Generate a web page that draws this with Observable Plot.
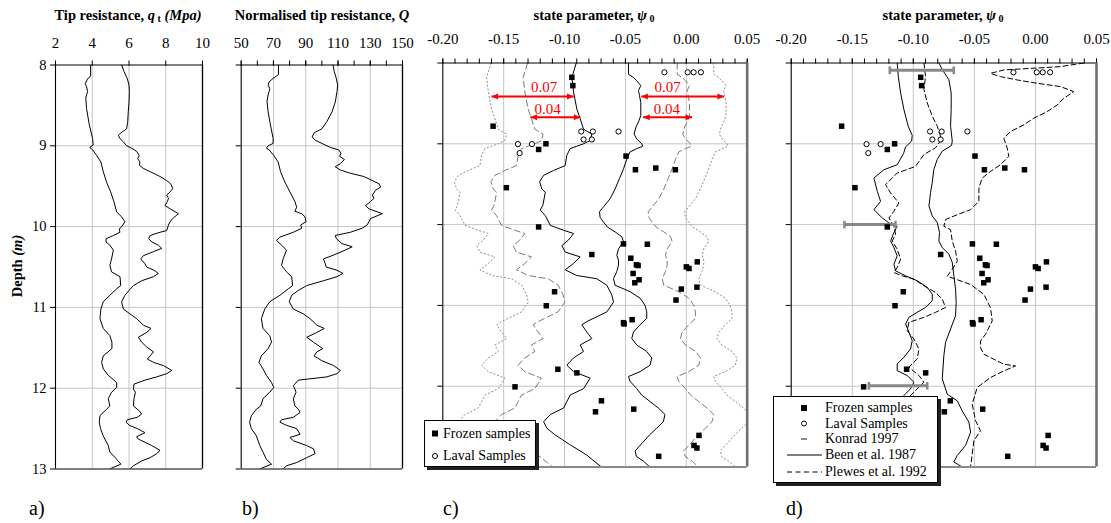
<!DOCTYPE html>
<html><head><meta charset="utf-8">
<script src="https://cdn.jsdelivr.net/npm/d3@7"></script>
<script src="https://cdn.jsdelivr.net/npm/@observablehq/plot@0.6"></script>
<style>
body{margin:0;background:#fff;}
#root{position:relative;width:1111px;height:523px;font-family:"Liberation Serif","Times New Roman",Times,serif;color:#000;overflow:hidden;}
.title{position:absolute;top:8px;font-weight:bold;font-size:14.5px;line-height:1;white-space:nowrap;transform:translateX(-50%);}
.title sub{font-size:10px;vertical-align:-2px;line-height:0;}
.plab{position:absolute;font-size:20px;line-height:1;top:498px;}
.legend{position:absolute;background:#fff;border:1px solid #000;box-shadow:3px 3px 0 #222;font-size:14px;line-height:1;}
.legend .t{position:absolute;white-space:nowrap;transform:translateY(-50%);}
.legend svg{position:absolute;left:0;top:0;overflow:visible;}
</style></head><body><div id="root"></div><script>
// ---------------- data ----------------
const depthTicks = [8, 9, 10, 11, 12, 13];
const depthGrid = [9, 10, 11, 12];
const qtTicks = [2, 4, 6, 8, 10];
const qtGrid = [4, 6, 8];
const qTicks = [50, 70, 90, 110, 130, 150];
const qMinor = [50, 60, 70, 80, 90, 100, 110, 120, 130, 140, 150];
const qGrid = [70, 90, 110, 130];
const psiTicks = [-0.20, -0.15, -0.10, -0.05, 0.00, 0.05];
const psiMinor = [-0.20,-0.19,-0.18,-0.17,-0.16,-0.15,-0.14,-0.13,-0.12,-0.11,-0.10,-0.09,-0.08,-0.07,-0.06,-0.05,-0.04,-0.03,-0.02,-0.01,0.00,0.01,0.02,0.03,0.04,0.05];
const psiGrid = [-0.15, -0.10, -0.05, 0.00];

// a) tip resistance qt (MPa): [depth, value]
const qtLeft = [[8.0,3.91],[8.14,3.91],[8.17,3.75],[8.23,3.62],[8.27,3.69],[8.33,3.75],[8.37,3.69],[8.41,3.65],[8.54,3.69],[8.74,3.84],[8.91,4.02],[8.99,4.05],[9.02,3.86],[9.05,4.02],[9.12,4.24],[9.2,4.47],[9.32,4.6],[9.45,4.78],[9.57,5.0],[9.69,5.18],[9.82,5.33],[9.88,5.6],[9.94,5.78],[10.0,5.6],[10.03,5.47],[10.07,5.51],[10.11,5.15],[10.15,4.75],[10.19,4.75],[10.23,4.96],[10.29,5.15],[10.4,5.05],[10.48,4.96],[10.56,5.05],[10.62,5.51],[10.73,5.55],[10.77,5.33],[10.85,4.96],[10.93,4.6],[11.02,4.47],[11.14,4.42],[11.26,4.6],[11.35,4.96],[11.43,5.07],[11.51,5.07],[11.6,4.6],[11.68,4.51],[11.76,4.6],[11.84,4.87],[11.93,5.33],[11.99,5.33],[12.05,5.05],[12.13,4.87],[12.22,4.96],[12.26,4.78],[12.34,4.42],[12.42,4.38],[12.5,4.45],[12.59,4.6],[12.71,4.87],[12.79,4.96],[12.88,5.33],[12.94,5.56],[13.0,4.93]];
const qtRight = [[8.0,5.6],[8.08,5.73],[8.17,5.91],[8.25,6.0],[8.33,6.02],[8.46,6.0],[8.58,5.96],[8.7,5.93],[8.79,5.87],[8.84,5.56],[8.87,5.42],[8.91,5.51],[8.95,5.69],[9.0,5.87],[9.03,6.15],[9.07,6.42],[9.12,6.56],[9.16,6.47],[9.2,6.6],[9.24,6.56],[9.28,6.78],[9.32,7.15],[9.38,7.69],[9.43,8.05],[9.47,8.27],[9.53,8.38],[9.57,8.24],[9.61,8.05],[9.65,8.15],[9.69,8.09],[9.74,7.96],[9.78,8.24],[9.84,8.69],[9.9,8.38],[9.94,8.24],[9.98,8.15],[10.05,8.05],[10.07,7.69],[10.11,7.15],[10.15,7.07],[10.19,7.24],[10.23,7.6],[10.27,7.78],[10.31,7.33],[10.36,6.78],[10.4,6.64],[10.46,6.87],[10.5,6.96],[10.54,7.36],[10.58,7.6],[10.62,7.33],[10.67,6.69],[10.73,6.24],[10.79,6.0],[10.85,5.78],[10.93,5.6],[11.02,5.69],[11.08,6.05],[11.14,6.42],[11.22,6.78],[11.26,7.2],[11.31,6.96],[11.37,6.51],[11.43,6.69],[11.49,6.96],[11.55,7.33],[11.6,7.15],[11.64,7.0],[11.68,7.33],[11.72,7.87],[11.78,8.33],[11.82,8.05],[11.86,7.51],[11.9,6.87],[11.95,6.27],[12.01,6.24],[12.05,6.35],[12.13,6.27],[12.22,6.24],[12.28,6.56],[12.32,6.69],[12.36,6.45],[12.39,5.91],[12.42,5.84],[12.46,6.02],[12.5,6.45],[12.55,6.87],[12.6,6.42],[12.63,6.51],[12.71,7.24],[12.77,7.69],[12.81,7.51],[12.86,7.15],[12.9,6.69],[12.96,6.24],[13.0,6.05]];

// b) normalised tip resistance Q: [depth, value]
const qLeft = [[8.0,73.1],[8.12,73.1],[8.165,69.8],[8.21,67.3],[8.25,66.7],[8.29,67.7],[8.33,67.3],[8.37,66.7],[8.45,66.0],[8.58,66.7],[8.74,68.1],[8.91,69.8],[8.97,69.8],[9.0,66.7],[9.03,65.6],[9.05,67.3],[9.12,70.2],[9.2,72.9],[9.32,74.4],[9.45,77.1],[9.57,80.2],[9.69,83.3],[9.76,84.4],[9.81,83.3],[9.84,87.5],[9.88,89.6],[9.94,90.2],[9.98,86.9],[10.02,87.5],[10.07,82.3],[10.13,74.0],[10.17,71.9],[10.23,75.0],[10.29,78.1],[10.4,76.0],[10.48,75.0],[10.56,78.1],[10.62,81.3],[10.73,81.9],[10.77,79.2],[10.85,74.0],[10.93,67.7],[11.02,64.6],[11.14,62.5],[11.26,63.5],[11.35,67.7],[11.43,68.8],[11.51,66.7],[11.6,62.5],[11.68,61.0],[11.76,63.5],[11.84,65.6],[11.93,68.8],[11.99,70.2],[12.05,67.7],[12.13,63.5],[12.22,62.1],[12.26,59.4],[12.34,56.3],[12.42,55.2],[12.5,56.3],[12.59,59.4],[12.71,61.5],[12.79,63.5],[12.88,65.6],[12.94,68.8],[13.0,61.5]];
const qRight = [[8.0,106.9],[8.08,107.7],[8.17,109.0],[8.25,109.8],[8.33,109.4],[8.46,108.3],[8.58,106.3],[8.7,103.1],[8.79,100.0],[8.84,95.2],[8.89,94.0],[8.93,95.8],[8.97,100.0],[9.02,105.2],[9.05,110.4],[9.09,111.9],[9.13,111.0],[9.17,114.0],[9.22,111.5],[9.26,108.3],[9.3,111.5],[9.34,117.7],[9.38,126.0],[9.43,131.3],[9.47,135.4],[9.51,136.5],[9.55,133.3],[9.61,131.3],[9.65,132.3],[9.69,130.2],[9.74,127.1],[9.78,129.2],[9.84,137.5],[9.9,130.2],[9.94,129.2],[9.98,128.1],[10.02,125.0],[10.07,117.7],[10.11,108.3],[10.15,109.0],[10.21,112.5],[10.25,118.8],[10.29,114.6],[10.36,106.3],[10.4,101.0],[10.46,102.1],[10.5,102.7],[10.54,109.4],[10.58,113.1],[10.62,109.4],[10.67,101.0],[10.73,90.6],[10.79,85.4],[10.85,81.3],[10.93,79.8],[11.02,82.3],[11.08,88.5],[11.14,92.7],[11.22,96.9],[11.26,101.5],[11.31,96.9],[11.37,90.6],[11.43,94.8],[11.51,100.6],[11.55,96.9],[11.6,95.2],[11.66,100.0],[11.72,107.3],[11.78,111.5],[11.82,109.4],[11.86,103.1],[11.9,85.4],[11.97,82.3],[12.01,83.3],[12.05,84.0],[12.13,82.3],[12.22,83.3],[12.26,85.4],[12.3,86.5],[12.36,82.3],[12.39,75.0],[12.42,74.0],[12.46,78.1],[12.5,84.4],[12.57,86.5],[12.61,80.2],[12.65,82.3],[12.71,90.6],[12.75,94.8],[12.81,95.8],[12.86,90.6],[12.92,84.4],[12.96,78.1],[13.0,76.0]];

// c) state parameter profiles: [depth, psi]
const psiCLeft = [[8.0,-0.0904],[8.18,-0.094],[8.36,-0.0926],[8.57,-0.0899],[8.69,-0.0872],[8.82,-0.0844],[8.88,-0.0776],[8.96,-0.079],[9.0,-0.0844],[9.03,-0.0899],[9.06,-0.0954],[9.14,-0.0981],[9.27,-0.0995],[9.33,-0.109],[9.39,-0.1172],[9.47,-0.1205],[9.56,-0.1186],[9.6,-0.1158],[9.76,-0.1178],[9.82,-0.12],[9.89,-0.1158],[10.01,-0.1117],[10.07,-0.1008],[10.11,-0.0926],[10.19,-0.0967],[10.26,-0.1022],[10.34,-0.0995],[10.4,-0.0872],[10.48,-0.0926],[10.56,-0.0995],[10.63,-0.0899],[10.67,-0.0735],[10.75,-0.0653],[10.87,-0.0612],[10.96,-0.0598],[11.08,-0.0653],[11.2,-0.0817],[11.24,-0.0858],[11.33,-0.0817],[11.41,-0.0776],[11.49,-0.0872],[11.57,-0.0844],[11.65,-0.0926],[11.74,-0.0981],[11.82,-0.0926],[11.9,-0.079],[12.03,-0.0844],[12.11,-0.0954],[12.27,-0.1008],[12.35,-0.1117],[12.44,-0.1172],[12.52,-0.1145],[12.6,-0.108],[12.72,-0.096],[12.85,-0.082],[13.0,-0.0697]];
const psiCRight = [[8.0,-0.0475],[8.14,-0.0475],[8.18,-0.0434],[8.22,-0.0407],[8.28,-0.0374],[8.34,-0.0393],[8.4,-0.0385],[8.49,-0.0374],[8.57,-0.0374],[8.65,-0.0374],[8.73,-0.0393],[8.79,-0.0413],[8.88,-0.0429],[8.94,-0.0407],[9.0,-0.0366],[9.03,-0.0358],[9.06,-0.0407],[9.1,-0.0462],[9.19,-0.0489],[9.31,-0.0516],[9.43,-0.0549],[9.56,-0.0585],[9.68,-0.0626],[9.78,-0.068],[9.84,-0.0713],[9.91,-0.0708],[9.97,-0.068],[10.03,-0.0648],[10.09,-0.0585],[10.15,-0.053],[10.21,-0.0516],[10.3,-0.0557],[10.38,-0.0571],[10.44,-0.0557],[10.5,-0.0557],[10.58,-0.0571],[10.67,-0.0598],[10.75,-0.0585],[10.83,-0.0462],[10.91,-0.038],[11.0,-0.0339],[11.08,-0.0325],[11.16,-0.0325],[11.24,-0.038],[11.33,-0.0434],[11.41,-0.0448],[11.49,-0.0407],[11.57,-0.0325],[11.65,-0.0284],[11.74,-0.0298],[11.82,-0.038],[11.88,-0.0475],[11.94,-0.0462],[12.03,-0.0407],[12.11,-0.0366],[12.19,-0.0298],[12.27,-0.023],[12.35,-0.0175],[12.44,-0.0189],[12.52,-0.0243],[12.6,-0.030],[12.7,-0.036],[12.8,-0.042],[12.87,-0.041],[12.93,-0.035],[13.0,-0.030]];
const bandInner = 0.04;   // offsets labelled on the chart
const bandOuter = 0.07;
const bandArrows = [
  {depth: 8.415, from: -0.160, to: -0.0925, label: "0.07", lx: -0.1167, ly: 8.30},
  {depth: 8.670, from: -0.128, to: -0.087, label: "0.04", lx: -0.114, ly: 8.575},
  {depth: 8.415, from: -0.037, to: 0.031, label: "0.07", lx: -0.0154, ly: 8.30},
  {depth: 8.670, from: -0.0355, to: 0.0048, label: "0.04", lx: -0.016, ly: 8.575}
];

// samples: [depth, psi]
const frozen = [[8.177,-0.094],[8.28,-0.0932],[8.782,-0.1587],[9.0,-0.1153],[9.07,-0.1213],[9.152,-0.0495],[9.321,-0.0418],[9.300,-0.0251],[9.321,-0.009],[9.543,-0.1478],[10.029,-0.1213],[10.239,-0.0516],[10.243,-0.032],[10.37,-0.0776],[10.416,-0.0456],[10.498,-0.041],[10.506,-0.0396],[10.605,-0.0437],[10.683,-0.0388],[10.72,-0.0423],[10.523,0.0],[10.543,0.0022],[10.461,0.009],[10.798,-0.0041],[10.774,0.0087],[10.934,-0.0085],[10.831,-0.1082],[11.004,-0.115],[11.214,-0.0516],[11.23,-0.0511],[11.177,-0.0445],[11.79,-0.1055],[11.835,-0.0899],[12.008,-0.1407],[12.181,-0.0697],[12.317,-0.0746],[12.284,-0.0432],[12.609,0.0104],[12.733,0.0063],[12.765,0.0087],[12.868,-0.0227]];
const laval = [[8.115,-0.018],[8.115,0.0011],[8.115,0.006],[8.115,0.012],[8.848,-0.0863],[8.848,-0.0768],[8.848,-0.0557],[8.947,-0.0844],[8.947,-0.0776],[9.004,-0.1383],[9.004,-0.1268],[9.115,-0.1369]];

// d) correlations: [depth, psi]
const beenLeft = [[8.0,-0.1132],[8.165,-0.1123],[8.37,-0.1104],[8.576,-0.1077],[8.782,-0.1042],[8.897,-0.1009],[8.967,-0.1014],[9.037,-0.1063],[9.12,-0.108],[9.2,-0.111],[9.259,-0.1132],[9.321,-0.1241],[9.424,-0.1323],[9.588,-0.1295],[9.712,-0.1268],[9.815,-0.1323],[9.918,-0.1254],[9.979,-0.12],[10.021,-0.1132],[10.099,-0.1159],[10.202,-0.1186],[10.284,-0.1159],[10.387,-0.1132],[10.49,-0.1159],[10.572,-0.1145],[10.634,-0.1063],[10.695,-0.0968],[10.778,-0.0886],[10.86,-0.0845],[10.942,-0.0845],[11.025,-0.09],[11.086,-0.0968],[11.148,-0.1036],[11.23,-0.1063],[11.333,-0.1036],[11.436,-0.1009],[11.539,-0.1023],[11.642,-0.1077],[11.724,-0.1132],[11.807,-0.1132],[11.868,-0.105],[11.951,-0.0995],[12.033,-0.1023],[12.115,-0.1077],[12.321,-0.1063],[12.568,-0.1009],[12.815,-0.0981],[13.0,-0.0954]];
const plewesLeft = [[8.0,-0.0913],[8.165,-0.09],[8.329,-0.0913],[8.494,-0.0886],[8.658,-0.0845],[8.782,-0.0804],[8.947,-0.0769],[9.049,-0.0818],[9.132,-0.0913],[9.28,-0.0982],[9.362,-0.1132],[9.506,-0.1227],[9.609,-0.1186],[9.733,-0.1118],[9.835,-0.1159],[9.918,-0.12],[10.021,-0.1159],[10.119,-0.1145],[10.202,-0.1173],[10.305,-0.1132],[10.428,-0.1104],[10.531,-0.1132],[10.593,-0.1159],[10.634,-0.1091],[10.675,-0.0995],[10.757,-0.0913],[10.84,-0.0818],[10.922,-0.0763],[11.025,-0.0736],[11.086,-0.0818],[11.148,-0.0913],[11.21,-0.1036],[11.313,-0.105],[11.416,-0.0995],[11.539,-0.0954],[11.663,-0.0968],[11.765,-0.1036],[11.868,-0.0954],[11.951,-0.0913],[12.053,-0.0982],[12.136,-0.1036],[12.321,-0.1023],[12.568,-0.0968],[12.815,-0.0927],[13.0,-0.09]];
const beenRight = [[8.0,-0.079],[8.082,-0.0763],[8.206,-0.0709],[8.37,-0.069],[8.576,-0.069],[8.782,-0.0695],[8.967,-0.0681],[9.02,-0.0687],[9.091,-0.0763],[9.193,-0.0804],[9.317,-0.0832],[9.481,-0.0845],[9.605,-0.0859],[9.77,-0.0872],[9.893,-0.0845],[9.975,-0.0804],[10.099,-0.0785],[10.202,-0.0791],[10.284,-0.0763],[10.366,-0.0709],[10.469,-0.0681],[10.634,-0.0668],[10.798,-0.0654],[10.963,-0.0649],[11.128,-0.0654],[11.292,-0.0695],[11.457,-0.0736],[11.621,-0.075],[11.909,-0.0763],[12.099,-0.0722],[12.181,-0.064],[12.305,-0.06],[12.444,-0.0545],[12.568,-0.0531],[12.733,-0.0572],[12.856,-0.064],[12.938,-0.0668],[13.0,-0.06]];
const plewesRight = [[8.0,0.0396],[8.045,0.0205],[8.086,-0.0259],[8.128,-0.0368],[8.169,-0.0286],[8.21,-0.0149],[8.251,0.0014],[8.292,0.0205],[8.354,0.0314],[8.436,0.0233],[8.519,0.0178],[8.601,0.0096],[8.683,-0.0013],[8.765,-0.0095],[8.848,-0.0204],[8.93,-0.0259],[9.053,-0.0231],[9.156,-0.0218],[9.259,-0.0286],[9.342,-0.0368],[9.424,-0.0436],[9.547,-0.0463],[9.712,-0.0463],[9.815,-0.0531],[9.877,-0.064],[9.938,-0.0736],[10.021,-0.075],[10.062,-0.0695],[10.206,-0.0681],[10.329,-0.0654],[10.453,-0.064],[10.551,-0.0681],[10.638,-0.0722],[10.741,-0.0531],[10.864,-0.0422],[11.029,-0.0368],[11.193,-0.0354],[11.358,-0.0409],[11.44,-0.045],[11.523,-0.045],[11.605,-0.0422],[11.728,-0.0259],[11.749,-0.0163],[11.811,-0.0259],[11.893,-0.0368],[12.016,-0.0477],[12.222,-0.0518],[12.428,-0.049],[12.551,-0.045],[12.675,-0.0504],[12.84,-0.0518],[13.0,-0.0531]];
const konrad = [{depth: 8.09, lo: -0.1193, hi: -0.0669}, {depth: 10.0, lo: -0.1564, hi: -0.1146}, {depth: 11.995, lo: -0.1364, hi: -0.0886}];

// ---------------- drawing ----------------
const FONT = '"Liberation Serif","Times New Roman",Times,serif';
const root = document.getElementById("root");
const H = 523;
const X = d => d[1], Y = d => d[0];
const fmt2 = d => d.toFixed(2);
const shifted = (arr, k) => arr.map(([d, v]) => [d, v + k]);

const triLeft = {draw(c, size) {const s = Math.sqrt(size / Math.PI); c.moveTo(0, 0); c.lineTo(2.2 * s, -s); c.lineTo(2.2 * s, s); c.closePath();}};
const triRight = {draw(c, size) {const s = Math.sqrt(size / Math.PI); c.moveTo(0, 0); c.lineTo(-2.2 * s, -s); c.lineTo(-2.2 * s, s); c.closePath();}};
const vbar = {draw(c, size) {const s = Math.sqrt(size / Math.PI); c.moveTo(0, -s); c.lineTo(0, s);}};

function panel(o) {
  const svg = Plot.plot({
    width: o.width, height: H,
    marginLeft: o.ml, marginRight: o.mr, marginTop: o.mt, marginBottom: H - o.bottom,
    style: {background: "transparent", fontFamily: FONT, overflow: "visible", color: "#000"},
    x: {domain: o.xDomain},
    y: {domain: [8, 13], reverse: true},
    marks: [
      Plot.gridX(o.grid, {stroke: "#c6c6c6", strokeOpacity: 1, strokeWidth: 1}),
      Plot.gridY(depthGrid, {stroke: "#c6c6c6", strokeOpacity: 1, strokeWidth: 1}),
      ...o.marks,
      o.minor ? Plot.axisX(o.minor, {anchor: "top", tickSize: 5, tickFormat: () => "", label: null}) : null,
      Plot.axisX(o.major, {anchor: "top", tickSize: 5, tickPadding: o.pad, tickFormat: o.fmt, label: null, fontSize: 15}),
      Plot.axisY(depthTicks, {anchor: "left", tickSize: 5, tickPadding: 4, tickFormat: o.yLabels ? (d => String(d)) : (() => ""), label: null, fontSize: 14.5}),
      Plot.ruleY([8], {stroke: "#000", strokeWidth: 1.1}),
      Plot.ruleY([13], {stroke: o.bottomColor, strokeWidth: o.bottomW}),
      Plot.ruleX([o.xDomain[0]], {stroke: "#000", strokeWidth: 1.1}),
      Plot.ruleX([o.xDomain[1]], {stroke: o.rightColor, strokeWidth: o.rightW})
    ]
  });
  svg.style.position = "absolute";
  svg.style.left = o.left + "px";
  svg.style.top = "0px";
  root.appendChild(svg);
}

const curve = (data, extra = {}) => Plot.line(data, {x: X, y: Y, stroke: "#000", strokeWidth: 1, clip: true, ...extra});
const sampleMarks = [
  Plot.dot(frozen, {x: X, y: Y, symbol: "square", r: 3.1, fill: "#000", stroke: "none"}),
  Plot.dot(laval, {x: X, y: Y, r: 2.6, fill: "#fff", stroke: "#000", strokeWidth: 1})
];

// a)
panel({left: 0, width: 220, ml: 55, mr: 18, mt: 64.5, bottom: 468.5, xDomain: [2, 10],
  major: qtTicks, fmt: d => String(d), grid: qtGrid, pad: 12.5, yLabels: true,
  bottomColor: "#000", bottomW: 1.1, rightColor: "#000", rightW: 1.3,
  marks: [curve(qtLeft), curve(qtRight)]});

// b)
panel({left: 220, width: 200, ml: 20.7, mr: 18, mt: 64.5, bottom: 468.5, xDomain: [50, 150],
  major: qTicks, minor: qMinor, fmt: d => String(d), grid: qGrid, pad: 12.5, yLabels: false,
  bottomColor: "#000", bottomW: 1.1, rightColor: "#000", rightW: 1.3,
  marks: [curve(qLeft), curve(qRight)]});

// c)
panel({left: 420, width: 345, ml: 22.3, mr: 18.3, mt: 62.5, bottom: 466.5, xDomain: [-0.2, 0.05],
  major: psiTicks, minor: psiMinor, fmt: fmt2, grid: psiGrid, pad: 14, yLabels: false,
  bottomColor: "#8a8a8a", bottomW: 2, rightColor: "#707070", rightW: 2.6,
  marks: [
    curve(shifted(psiCLeft, -bandOuter), {stroke: "#8c8c8c", strokeDasharray: "1.2,2.6"}),
    curve(shifted(psiCRight, bandOuter), {stroke: "#8c8c8c", strokeDasharray: "1.2,2.6"}),
    curve(shifted(psiCLeft, -bandInner), {stroke: "#7a7a7a", strokeDasharray: "6,3.5"}),
    curve(shifted(psiCRight, bandInner), {stroke: "#7a7a7a", strokeDasharray: "6,3.5"}),
    curve(psiCLeft), curve(psiCRight),
    ...sampleMarks,
    Plot.link(bandArrows, {x1: "from", x2: "to", y1: "depth", y2: "depth", stroke: "#f00", strokeWidth: 2}),
    Plot.dot(bandArrows, {x: "from", y: "depth", symbol: triLeft, r: 3, fill: "#f00", stroke: "none"}),
    Plot.dot(bandArrows, {x: "to", y: "depth", symbol: triRight, r: 3, fill: "#f00", stroke: "none"}),
    Plot.text(bandArrows, {x: "lx", y: "ly", text: "label", fill: "#f00", fontSize: 15, fontFamily: FONT})
  ]});

// d)
panel({left: 765, width: 346, ml: 25.7, mr: 15, mt: 62.5, bottom: 466.5, xDomain: [-0.2, 0.05],
  major: psiTicks, minor: psiMinor, fmt: fmt2, grid: psiGrid, pad: 14, yLabels: false,
  bottomColor: "#8a8a8a", bottomW: 2, rightColor: "#707070", rightW: 2.6,
  marks: [
    curve(beenLeft), curve(beenRight),
    curve(plewesLeft, {strokeDasharray: "5,3"}), curve(plewesRight, {strokeDasharray: "5,3"}),
    Plot.link(konrad, {x1: "lo", x2: "hi", y1: "depth", y2: "depth", stroke: "#888", strokeWidth: 3}),
    Plot.dot(konrad, {x: "lo", y: "depth", symbol: vbar, r: 3.8, stroke: "#888", strokeWidth: 2.5, fill: "none"}),
    Plot.dot(konrad, {x: "hi", y: "depth", symbol: vbar, r: 3.8, stroke: "#888", strokeWidth: 2.5, fill: "none"}),
    ...sampleMarks
  ]});

// ---------------- text ----------------
function add(html, cls, style) {
  const el = document.createElement("div");
  el.className = cls; el.innerHTML = html; Object.assign(el.style, style);
  root.appendChild(el); return el;
}
add('Tip resistance, <i>q</i><sub> t</sub> <i>(Mpa)</i>', "title", {left: "128px"});
add('Normalised tip resistance, <i>Q</i>', "title", {left: "322px"});
add('state parameter, <i>ψ</i><sub> 0</sub>', "title", {left: "594px"});
add('state parameter, <i>ψ</i><sub> 0</sub>', "title", {left: "943px"});
add('Depth <i>(m)</i>', "", {position: "absolute", left: "17px", top: "266px", fontWeight: "bold", fontSize: "14.5px", lineHeight: "1", whiteSpace: "nowrap", transform: "translate(-50%,-50%) rotate(-90deg)"});
add('a)', "plab", {left: "29px"});
add('b)', "plab", {left: "242px"});
add('c)', "plab", {left: "443px"});
add('d)', "plab", {left: "786px"});

// legends
const sq = (x, y) => `<rect x="${x - 3}" y="${y - 3}" width="6" height="6" fill="#000"/>`;
const ci = (x, y) => `<circle cx="${x}" cy="${y}" r="2.5" fill="#fff" stroke="#000"/>`;
const legC = add('', "legend", {left: "424px", top: "420px", width: "110px", height: "45px"});
legC.innerHTML = `<svg width="110" height="45">${sq(10, 12.5)}${ci(10, 35)}</svg>
  <div class="t" style="left:18px;top:12.5px">Frozen samples</div>
  <div class="t" style="left:18px;top:35px">Laval Samples</div>`;
const legD = add('', "legend", {left: "773px", top: "396px", width: "163px", height: "85px"});
const rows = [11, 26.5, 42, 58, 75];
legD.innerHTML = `<svg width="163" height="85">${sq(30, rows[0])}${ci(30, rows[1])}
  <line x1="27" x2="33" y1="${rows[2]}" y2="${rows[2]}" stroke="#888" stroke-width="2"/>
  <line x1="13" x2="48" y1="${rows[3]}" y2="${rows[3]}" stroke="#000" stroke-width="1"/>
  <line x1="13" x2="48" y1="${rows[4]}" y2="${rows[4]}" stroke="#000" stroke-width="1" stroke-dasharray="5,3.5"/></svg>
  <div class="t" style="left:51px;top:${rows[0]}px">Frozen samples</div>
  <div class="t" style="left:51px;top:${rows[1]}px">Laval Samples</div>
  <div class="t" style="left:51px;top:${rows[2]}px">Konrad 1997</div>
  <div class="t" style="left:51px;top:${rows[3]}px">Been et al. 1987</div>
  <div class="t" style="left:51px;top:${rows[4]}px">Plewes et al. 1992</div>`;
</script></body></html>
